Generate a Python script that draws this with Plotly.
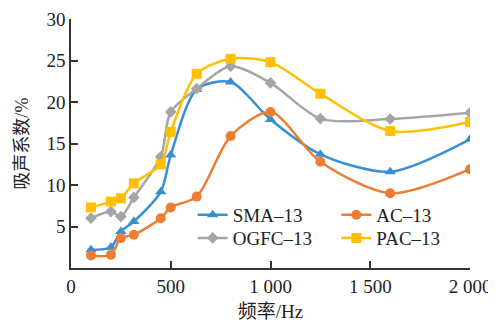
import plotly.graph_objects as go

freq = [100, 200, 250, 315, 450, 500, 630, 800, 1000, 1250, 1600, 2000]
sma13 = [2.2, 2.5, 4.4, 5.6, 9.2, 13.6, 21.5, 22.4, 17.9, 13.7, 11.6, 15.5]
ac13 = [1.5, 1.6, 3.6, 4.0, 6.0, 7.3, 8.6, 15.9, 18.8, 12.8, 9.0, 11.9]
ogfc13 = [6.0, 6.8, 6.2, 8.5, 13.4, 18.8, 21.6, 24.3, 22.3, 18.0, 17.95, 18.7]
pac13 = [7.3, 8.0, 8.4, 10.2, 12.5, 16.4, 23.4, 25.2, 24.8, 21.0, 16.5, 17.6]

x_ticks = [0, 500, 1000, 1500, 2000]
x_ticktext = ["0", "500", "1 000", "1 500", "2 000"]
y_ticks = [5, 10, 15, 20, 25, 30]

series = [
    ("SMA\u201313", sma13, "#3a8fd1", "triangle-up", 10, "legend"),
    ("AC\u201313", ac13, "#ed7d31", "circle", 10, "legend2"),
    ("OGFC\u201313", ogfc13, "#a5a5a5", "diamond", 9, "legend3"),
    ("PAC\u201313", pac13, "#ffc000", "square", 10, "legend4"),
]

fig = go.Figure()
for name, vals, color, sym, size, leg in series:
    fig.add_trace(go.Scatter(
        x=freq, y=vals, name=name, mode="lines+markers",
        line=dict(color=color, width=2.5, shape="spline", smoothing=0.8),
        marker=dict(symbol=sym, size=size, color=color),
        legend=leg,
    ))

serif = "Liberation Serif, Noto Sans CJK SC, serif"
axis_color = "#333333"


def leg(x, y):
    return dict(x=x, y=y, xanchor="left", yanchor="middle",
                bgcolor="rgba(0,0,0,0)", font=dict(size=19, family=serif),
                tracegroupgap=0, itemwidth=30)


fig.update_layout(
    width=488, height=320,
    margin=dict(l=63, r=26, t=11, b=60),
    paper_bgcolor="white", plot_bgcolor="white",
    font=dict(family=serif, size=19, color="#222222"),
    showlegend=True,
    legend=leg(0.305, 0.213),
    legend2=leg(0.665, 0.213),
    legend3=leg(0.305, 0.12),
    legend4=leg(0.665, 0.12),
    xaxis=dict(range=[0, 2000], tickvals=x_ticks, ticktext=x_ticktext,
               automargin=False,
               showgrid=False, zeroline=False, showline=True,
               linecolor=axis_color, linewidth=1.5,
               ticks="inside", ticklen=7, tickcolor=axis_color, tickwidth=1.5,
               tickfont=dict(size=19),
               title=dict(text="频率/Hz", font=dict(size=19, family=serif), standoff=9)),
    yaxis=dict(range=[0, 30], tickvals=y_ticks,
               automargin=False,
               showgrid=False, zeroline=False, showline=True,
               linecolor=axis_color, linewidth=1.5,
               ticks="inside", ticklen=7, tickcolor=axis_color, tickwidth=1.5,
               tickfont=dict(size=19)),
    annotations=[dict(text="吸声系数/%", xref="paper", yref="paper",
                      x=-0.125, y=0.5, xanchor="center", yanchor="middle",
                      textangle=-90, showarrow=False,
                      font=dict(size=18, family=serif))],
)

fig.write_html("out.html")
